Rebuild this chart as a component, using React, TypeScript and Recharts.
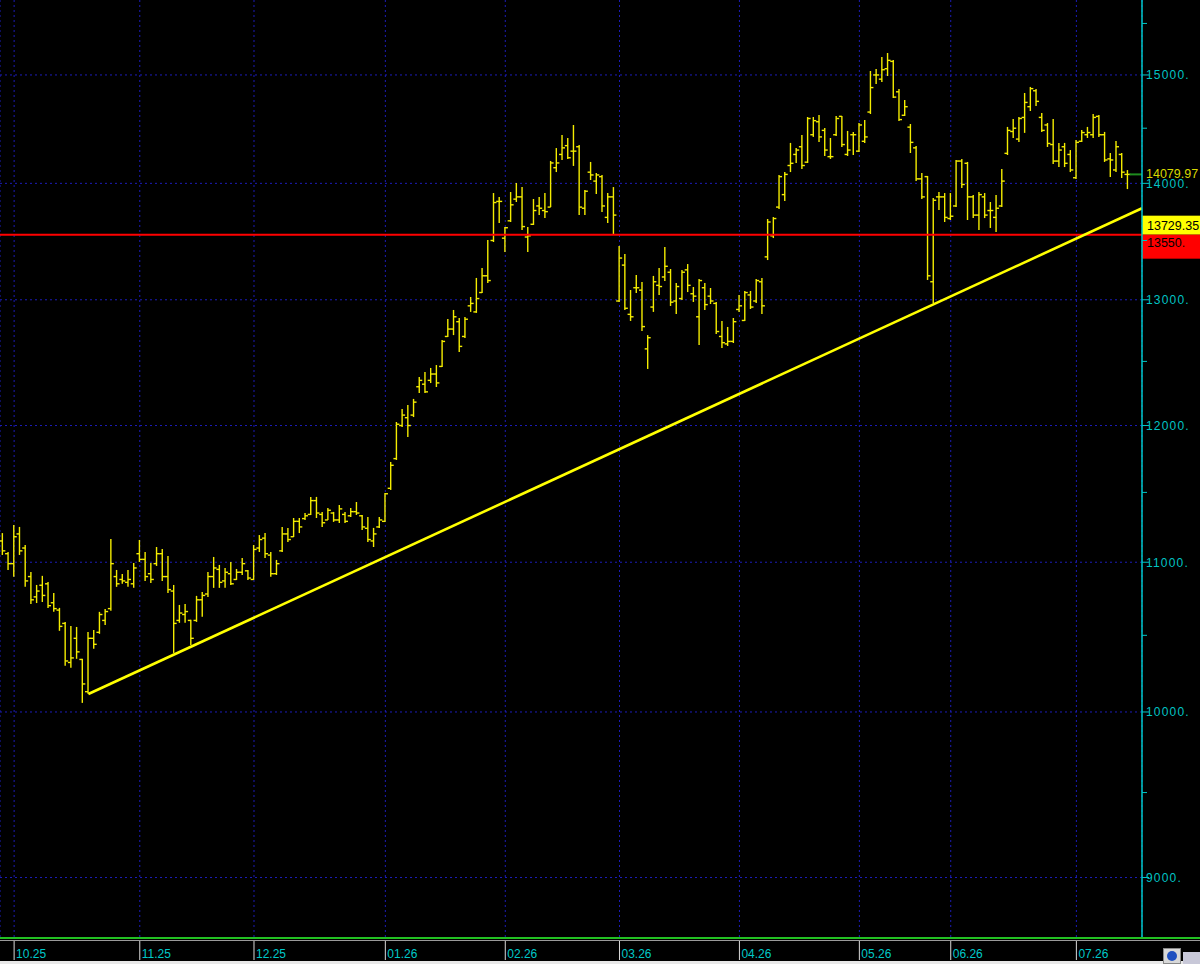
import {
  ComposedChart,
  Bar,
  Line,
  XAxis,
  YAxis,
  CartesianGrid,
  ReferenceLine,
} from "recharts";

// daily OHLC (index 0 = late Sep 2025)
const highs = [
  11206, 11072, 11264, 11250, 11121, 10932, 10842, 10905, 10863, 10787,
  10685, 10590, 10563, 10556, 10344, 10523, 10536, 10658, 10678, 11164,
  10946, 10918, 10946, 10995, 11157, 11072, 10995, 11107, 11093, 11044,
  10842, 10705, 10712, 10604, 10767, 10794, 10932, 11037, 10981, 10960,
  11002, 10953, 11030, 10946, 11121, 11192, 11206, 11072, 11016, 11250,
  11243, 11314, 11314, 11350, 11467, 11467, 11358, 11387, 11358, 11408,
  11358, 11387, 11430, 11336, 11322, 11243, 11322, 11496, 11725, 12027,
  12127, 12158, 12205, 12377, 12416, 12448, 12471, 12671, 12842, 12916,
  12850, 12858, 13023, 13182, 13265, 13504, 13914, 13879, 13616, 13923,
  14003, 13967, 13616, 13861, 13879, 13914, 14201, 14318, 14438, 14410,
  14530, 14346, 13941, 14192, 14092, 14075, 13914, 13967, 13453, 13384,
  13081, 13207, 13148, 12711, 13199, 13265, 13444, 13257, 13140, 13249,
  13299, 13106, 13173, 13140, 13098, 12982, 12826, 12777, 12850, 13040,
  13073, 13073, 13173, 13182, 13686, 13703, 14074, 14101, 14365, 14318,
  14438, 14604, 14604, 14622, 14502, 14410, 14613, 14613, 14475, 14466,
  14548, 14576, 15038, 15057, 15172, 15211, 15143, 14867, 14763, 14539,
  14337, 14092, 14066, 13870, 13923, 13914, 13914, 14210, 14219, 14192,
  13896, 13923, 13914, 13835, 13896, 14128, 14512, 14585, 14604, 14829,
  14886, 14867, 14641, 14548, 14585, 14365, 14365, 14300, 14392, 14484,
  14512, 14632, 14622, 14466, 14273, 14383, 14273, 14119,
];
const lows = [
  11051, 10946, 10898, 11051, 10829, 10712, 10718, 10725, 10685, 10658,
  10530, 10298, 10285, 10344, 10058, 10116, 10410, 10510, 10570, 10665,
  10829, 10850, 10829, 10822, 11002, 10870, 10856, 10974, 10870, 10787,
  10383, 10584, 10584, 10436, 10590, 10624, 10760, 10822, 10822, 10822,
  10842, 10877, 10911, 10877, 10877, 11072, 11030, 10898, 10911, 11072,
  11143, 11178, 11206, 11300, 11336, 11314, 11250, 11300, 11286, 11279,
  11279, 11322, 11336, 11228, 11143, 11107, 11243, 11286, 11518, 11740,
  11989, 11913, 12065, 12251, 12251, 12329, 12298, 12455, 12695, 12711,
  12575, 12687, 12900, 12892, 13056, 13140, 13487, 13651, 13401, 13660,
  13835, 13590, 13401, 13634, 13720, 13694, 13790, 14101, 14210, 14219,
  14156, 13720, 13720, 14030, 13905, 13747, 13651, 13556, 12982, 12916,
  12826, 13056, 12744, 12440, 12900, 13040, 13157, 12949, 12883, 12998,
  13064, 12982, 12631, 12916, 12965, 12720, 12607, 12623, 12647, 12900,
  12826, 12924, 12973, 12883, 13333, 13521, 13773, 13843, 14101, 14183,
  14128, 14183, 14420, 14374, 14246, 14219, 14429, 14328, 14246, 14255,
  14282, 14365, 14632, 14914, 14933, 14990, 14782, 14567, 14613, 14273,
  14021, 13861, 13165, 12973, 13764, 13660, 13677, 13790, 13958, 13677,
  13694, 13590, 13694, 13608, 13573, 13790, 14255, 14410, 14374, 14457,
  14660, 14707, 14466, 14328, 14174, 14146, 14146, 14101, 14039, 14374,
  14410, 14410, 14420, 14192, 14057, 14101, 14048, 13949,
];
const opens = [
  11150, 11060, 10990, 11200, 11100, 10900, 10760, 10840, 10850, 10720,
  10670, 10580, 10320, 10480, 10340, 10130, 10480, 10520, 10600, 10680,
  10900, 10880, 10860, 10850, 11060, 11020, 10920, 10990, 11060, 10900,
  10800, 10600, 10640, 10600, 10600, 10740, 10780, 10900, 10950, 10870,
  10920, 10880, 10930, 10940, 10880, 11100, 11170, 11050, 10920, 11080,
  11200, 11180, 11290, 11310, 11340, 11440, 11340, 11300, 11350, 11300,
  11340, 11330, 11360, 11330, 11240, 11150, 11250, 11290, 11530, 11750,
  12000, 12060, 12080, 12300, 12320, 12350, 12400, 12460, 12700, 12760,
  12820, 12700, 12950, 12900, 13060, 13200, 13500, 13840, 13520, 13670,
  13860, 13880, 13530, 13640, 13800, 13760, 13790, 14140, 14260, 14340,
  14290, 14330, 13780, 14100, 14020, 14060, 13700, 13880, 12990, 13290,
  12880, 13100, 13080, 12600, 12940, 13120, 13190, 13230, 12990, 13010,
  13250, 13050, 12860, 13100, 13030, 12970, 12700, 12640, 12660, 12920,
  12830, 13040, 12990, 13150, 13360, 13540, 13790, 13900, 14160, 14260,
  14330, 14190, 14440, 14560, 14480, 14240, 14440, 14610, 14260, 14440,
  14290, 14380, 14650, 15000, 14960, 15060, 15130, 14840, 14620, 14510,
  14320, 14040, 14060, 13150, 13880, 13880, 13690, 13800, 14200, 14180,
  13880, 13720, 13880, 13760, 13700, 13800, 14270, 14470, 14400, 14600,
  14700, 14850, 14600, 14530, 14350, 14200, 14330, 14260, 14050, 14380,
  14440, 14440, 14610, 14440, 14220, 14120, 14260, 14080,
];
const closes = [
  11080, 10990, 11180, 11080, 10870, 10740, 10800, 10770, 10700, 10680,
  10560, 10330, 10350, 10390, 10180, 10480, 10440, 10640, 10660, 10990,
  10850, 10870, 10880, 10960, 11020, 10900, 10880, 11060, 10900, 10810,
  10580, 10650, 10660, 10480, 10740, 10770, 10900, 10960, 10860, 10930,
  10850, 10930, 10990, 10890, 11090, 11160, 11060, 10920, 10990, 11200,
  11160, 11290, 11250, 11330, 11440, 11350, 11280, 11370, 11300, 11380,
  11290, 11360, 11350, 11250, 11160, 11200, 11300, 11490, 11700, 12010,
  12080, 12000, 12180, 12350, 12260, 12400, 12330, 12660, 12760, 12860,
  12620, 12840, 12970, 13010, 13200, 13160, 13830, 13840, 13610, 13810,
  13880, 13620, 13540, 13760, 13780, 13750, 14183, 14183, 14320, 14230,
  14290, 13790, 13930, 14075, 14075, 13800, 13880, 13720, 13350, 12930,
  12860, 13100, 12780, 12690, 13150, 13110, 13280, 12980, 13110, 13230,
  13120, 13030, 13160, 12960, 12990, 12740, 12650, 12660, 12820, 12950,
  13060, 12940, 13160, 12950, 13660, 13690, 14060, 14080, 14180, 14300,
  14160, 14590, 14570, 14420, 14300, 14240, 14590, 14350, 14300, 14440,
  14530, 14420, 14880, 15000, 15050, 15140, 14790, 14580, 14700, 14370,
  14040, 13880, 13200, 13850, 13880, 13700, 13710, 14200, 13990, 13880,
  13720, 13900, 13720, 13760, 13780, 14020, 14480, 14500, 14590, 14740,
  14870, 14750, 14480, 14360, 14200, 14300, 14180, 14120, 14370, 14460,
  14460, 14600, 14440, 14210, 14210, 14330, 14100, 14079.97,
];

// first bar of each month
const monthStarts = [2, 24, 44, 67, 88, 108, 129, 150, 166, 188];
const monthLabels = ["10.25", "11.25", "12.25", "01.26", "02.26", "03.26", "04.26", "05.26", "06.26", "07.26"];

const majorTicks = [9000, 10000, 11000, 12000, 13000, 14000, 15000];
const minorTicks = [9500, 10500, 11500, 12500, 13500, 14500, 15500];

// support trendline: from the Oct low to the right edge
const trendX = [15, 199.49];
const trendY = [10115, 13780];

const lastPrice = 14079.97;
const trendLabel = "13729.35";
const supportLevel = 13550;

const data: any[] = highs.map((h, i) => ({
  i,
  range: [lows[i], h],
  open: opens[i],
  close: closes[i],
}));
trendX.forEach((x, k) => {
  const row = data.find((d) => d.i === x);
  if (row) row.trend = trendY[k];
  else data.push({ i: x, trend: trendY[k] });
});

const FONT = '"Liberation Sans", Arial, sans-serif';

function OhlcBar(props: any) {
  const { x, y, width, height, payload } = props;
  if (!payload || !payload.range) return null;
  const [lo, hi] = payload.range;
  const top = Math.min(y, y + height);
  const h = Math.abs(height);
  const cx = x + width / 2;
  const k = h / (Math.log(hi) - Math.log(lo) || 1);
  const oy = top + (Math.log(hi) - Math.log(payload.open)) * k;
  const cy = top + (Math.log(hi) - Math.log(payload.close)) * k;
  return (
    <g stroke="#f4ec00" strokeWidth={1.4}>
      <line x1={cx} x2={cx} y1={top} y2={top + h} />
      <line x1={cx - 3} x2={cx} y1={oy} y2={oy} />
      <line x1={cx} x2={cx + 3} y1={cy} y2={cy} />
    </g>
  );
}

function PriceTick(props: any) {
  const { x, y, payload } = props;
  const v = payload.value;
  const major = v % 1000 === 0;
  return (
    <g>
      <line x1={x} x2={x + (major ? 7 : 5)} y1={y} y2={y} stroke="#00c8c8" />
      {major && (
        <text x={x + 4} y={y + 4.5} fill="#00c4c4" fontSize={12} letterSpacing={1.2} fontFamily={FONT}>
          {v + "."}
        </text>
      )}
    </g>
  );
}

function MonthTick(props: any) {
  const { x, y, payload } = props;
  const idx = monthStarts.indexOf(payload.value);
  return (
    <g>
      <line x1={x} x2={x} y1={y + 3} y2={y + 22} stroke="#d8d8d8" />
      <text x={x + 2} y={y + 20} fill="#00c8c8" fontSize={12} fontFamily={FONT}>
        {monthLabels[idx]}
      </text>
    </g>
  );
}

function SupportLabel(props: any) {
  const { viewBox } = props;
  const right = viewBox.x + viewBox.width;
  const y = viewBox.y;
  return (
    <g fontFamily={FONT} fontSize={12.5}>
      <rect x={right} y={y - 19} width={60} height={19} fill="#ffff00" />
      <text x={right + 5} y={y - 5} fill="#000">{trendLabel}</text>
      <rect x={right} y={y} width={60} height={24} fill="#ff0000" />
      <text x={right + 5} y={y + 12} fill="#000">{supportLevel + "."}</text>
    </g>
  );
}

function LastLabel(props: any) {
  const { viewBox } = props;
  const right = viewBox.x + viewBox.width;
  const y = viewBox.y;
  return (
    <g fontFamily={FONT} fontSize={12.5}>
      <rect x={right + 2} y={y - 7} width={56} height={11} fill="#000" />
      <text x={right + 4} y={y + 3.5} fill="#d8d800">{lastPrice.toFixed(2)}</text>
    </g>
  );
}

export default function App() {
  return (
    <div style={{ position: "absolute", left: 0, top: 0, width: 1200, height: 964, background: "#000", overflow: "hidden" }}>
      <ComposedChart
        width={1200}
        height={964}
        data={data}
        margin={{ top: 0, right: 0, left: 0, bottom: 0 }}
        style={{ background: "#000" }}
      >
        <CartesianGrid
          stroke="#1c1cb8"
          strokeDasharray="2 3"
          horizontalValues={majorTicks}
        />
        <XAxis
          dataKey="i"
          type="number"
          domain={[-0.473, 199.49]}
          allowDataOverflow
          ticks={monthStarts}
          interval={0}
          tick={<MonthTick />}
          tickLine={false}
          tickSize={0}
          tickMargin={0}
          axisLine={false}
          height={26}
        />
        <YAxis
          orientation="right"
          type="number"
          scale="log"
          domain={[8660, 15733]}
          allowDataOverflow
          ticks={[...majorTicks, ...minorTicks].sort((a, b) => a - b)}
          interval={0}
          tick={<PriceTick />}
          tickLine={false}
          tickSize={0}
          tickMargin={0}
          axisLine={{ stroke: "#00c8c8", strokeWidth: 1.5 }}
          width={58}
        />
        <Bar dataKey="range" barSize={5} shape={<OhlcBar />} isAnimationActive={false} />
        <ReferenceLine
          y={supportLevel}
          stroke="#ff0000"
          strokeWidth={2}
          label={<SupportLabel />}
        />
        <Line
          dataKey="trend"
          stroke="#ffff00"
          strokeWidth={2.6}
          dot={false}
          connectNulls
          isAnimationActive={false}
        />
        <ReferenceLine
          segment={[{ x: 197.3, y: lastPrice }, { x: 199.49, y: lastPrice }]}
          stroke="#1e8c1e"
          strokeWidth={2}
          label={<LastLabel />}
        />
      </ComposedChart>
      <div style={{ position: "absolute", left: 0, top: 937, width: 1200, height: 2, background: "#22c022" }} />
      <div style={{ position: "absolute", left: 0, top: 940, width: 1200, height: 1, background: "#9a9a9a" }} />
      <div style={{ position: "absolute", left: 0, top: 961, width: 1200, height: 3, background: "#e8e8e8" }} />
      <div style={{ position: "absolute", left: 1163, top: 948, width: 18, height: 16, background: "#d8d8d8", border: "1px solid #888", boxSizing: "border-box" }} />
      <div style={{ position: "absolute", left: 1167, top: 951, width: 10, height: 10, borderRadius: 5, background: "#2050c0" }} />
      <div style={{ position: "absolute", left: 1183, top: 952, width: 17, height: 12, background: "#c8c8d8" }} />
    </div>
  );
}
